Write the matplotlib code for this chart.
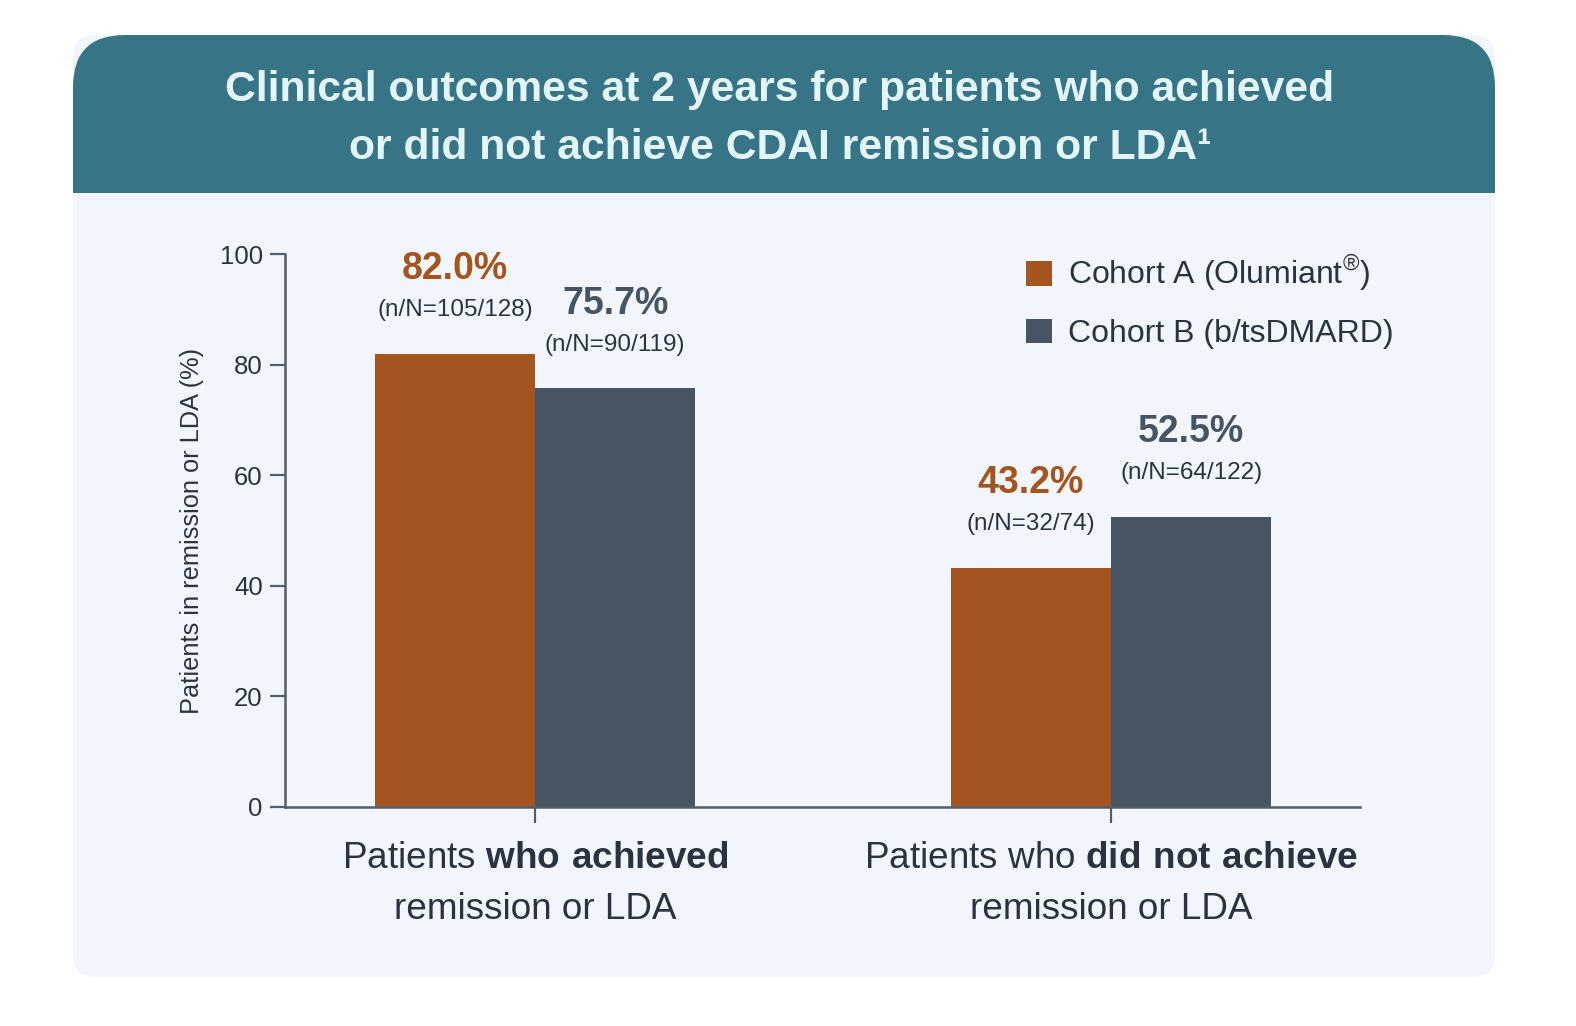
import matplotlib.pyplot as plt
from matplotlib.patches import FancyBboxPatch, Rectangle
import numpy as np

plt.rcParams['font.family'] = ['Liberation Sans', 'DejaVu Sans']
plt.rcParams['mathtext.fontset'] = 'custom'
plt.rcParams['mathtext.rm'] = 'Liberation Sans'
plt.rcParams['mathtext.bf'] = 'Liberation Sans:bold'

# data
groups = ["Patients $\\mathbf{who\\ achieved}$\nremission or LDA",
          "Patients who $\\mathbf{did\\ not\\ achieve}$\nremission or LDA"]
series = ["Cohort A (Olumiant$^{\\mathrm{®}}$)", "Cohort B (b/tsDMARD)"]
cohort_a = [82.0, 43.2]
cohort_b = [75.7, 52.5]
n_a = ["(n/N=105/128)", "(n/N=32/74)"]
n_b = ["(n/N=90/119)", "(n/N=64/122)"]
yticks = [0, 20, 40, 60, 80, 100]

c_orange = "#A4541F"
c_gray = "#475464"
c_text = "#2B3340"
c_axis = "#545E6B"
c_head = "#367486"
c_body = "#F2F6FC"

W, H = 1576, 1026
fig = plt.figure(figsize=(W / 100, H / 100), dpi=100)
fig.patch.set_facecolor("white")

# background card in pixel coords
bg = fig.add_axes([0, 0, 1, 1], zorder=0)
bg.set_xlim(0, W)
bg.set_ylim(H, 0)
bg.axis("off")
bg.add_patch(FancyBboxPatch((73, 35), 1422, 942, boxstyle="round,pad=0,rounding_size=22",
                            fc=c_body, ec="none"))
bg.add_patch(FancyBboxPatch((73, 35), 1422, 220, boxstyle="round,pad=0,rounding_size=52",
                            fc=c_head, ec="none"))
bg.add_patch(Rectangle((73, 193), 1422, 80, fc=c_body, ec="none"))
bg.text(780, 90, "Clinical outcomes at 2 years for patients who achieved",
        ha="center", va="center", fontsize=30.7, fontweight="bold", color="#E2F6F9")
bg.text(780, 148, "or did not achieve CDAI remission or LDA\u00b9",
        ha="center", va="center", fontsize=30.7, fontweight="bold", color="#E2F6F9")

# chart
ax = fig.add_axes([285 / W, 1 - 807 / H, (1360 - 285) / W, (807 - 254) / H], zorder=1)
ax.set_facecolor("none")
x = np.arange(len(groups))
w = 0.278
bars_a = ax.bar(x - w / 2, cohort_a, w, color=c_orange, label=series[0])
bars_b = ax.bar(x + w / 2, cohort_b, w, color=c_gray, label=series[1])

for bars, vals, ns, col in [(bars_a, cohort_a, n_a, c_orange), (bars_b, cohort_b, n_b, c_gray)]:
    for b, v, n in zip(bars, vals, ns):
        cx = b.get_x() + b.get_width() / 2
        ax.annotate(f"{v:.1f}%", (cx, v), xytext=(0, 61), textcoords="offset points",
                    ha="center", va="center", fontsize=27, fontweight="bold", color=col)
        ax.annotate(n, (cx, v), xytext=(0, 31.5), textcoords="offset points",
                    ha="center", va="center", fontsize=17.5, color=c_text)

ax.set_xlim(-0.434, 1.432)
ax.set_ylim(0, 100)
ax.set_yticks(yticks)
ax.set_xticks(x)
ax.set_xticklabels(groups, fontsize=26.6, color=c_text, linespacing=1.6)
ax.tick_params(axis="y", labelsize=18.5, labelcolor=c_text, length=11, width=1.6,
               color=c_axis, pad=5)
ax.tick_params(axis="x", length=11.5, width=1.6, color=c_axis, pad=13)
for s in ["top", "right"]:
    ax.spines[s].set_visible(False)
for s in ["left", "bottom"]:
    ax.spines[s].set_color(c_axis)
    ax.spines[s].set_linewidth(1.8)
ax.set_ylabel("Patients in remission or LDA (%)", fontsize=18.3, color=c_text, labelpad=11)

leg = ax.legend(loc="upper left", bbox_to_anchor=(1026 / W, 1 - 253 / H),
                bbox_transform=fig.transFigure, frameon=False, fontsize=23,
                handlelength=0.8, handleheight=0.8, handletextpad=0.53,
                labelspacing=0.8, borderpad=0, borderaxespad=0)
for t in leg.get_texts():
    t.set_color(c_text)

fig.savefig("out.png", dpi=100)
